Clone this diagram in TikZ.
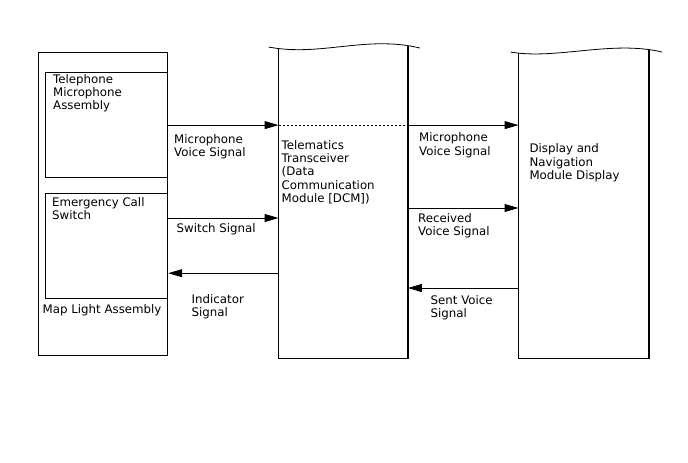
\documentclass[tikz,border=0pt]{standalone}
\usepackage{fontspec}
\setmainfont{DejaVu Sans}
\usetikzlibrary{arrows.meta, positioning, calc}
\tikzstyle{unit} = [rectangle, draw=black, line width=1.2pt, anchor=north west,
    inner sep=0pt]
\tikzstyle{frame} = [rectangle, anchor=north west, inner sep=0pt]
\tikzstyle{edge} = [draw=black, line width=1.2pt]
\tikzstyle{wave} = [draw=black, line width=0.8pt]
\tikzstyle{txt} = [anchor=north west, align=left, inner sep=0pt,
    font=\fontsize{11.8}{13.4}\selectfont]
\tikzstyle{arrow} = [line width=1pt, -{Triangle[length=14pt,width=8pt]}]
\tikzstyle{dotline} = [line width=1pt, dash pattern=on 2pt off 2pt]

\begin{document}
\begin{tikzpicture}[x=1pt, y=-1pt]
  \useasboundingbox (0,0) rectangle (688,463);
  % Map light assembly
  \node[unit, minimum width=129pt, minimum height=303pt](maplight) at (38,52){};
  \node[unit, minimum width=122pt, minimum height=105pt](mic) at (45,72){};
  \node[unit, minimum width=122pt, minimum height=105pt](sw) at (45,193){};
  \node[txt] at ($(mic.north west)+(8,2)$){Telephone\\Microphone\\Assembly};
  \node[txt] at ($(sw.north west)+(7,4)$){Emergency Call\\Switch};
  \node[txt] at ($(maplight.north west)+(4.5,252)$){Map Light Assembly};

  % Telematics transceiver
  \node[frame, minimum width=129pt, minimum height=311pt](dcm) at (278.5,47){};
  \draw[edge]($(dcm.north west)+(0,1.6)$) -- (dcm.south west)
    -- (dcm.south east) -- ($(dcm.north east)+(0,-1.2)$);
  \draw[wave]($(dcm.north west)+(-10,0)$) .. controls +(52,10) and +(-54,-13)
    .. ($(dcm.north east)+(12,1)$);
  \node[txt] at ($(dcm.north west)+(3,93)$){Telematics\\Transceiver\\(Data\\
    Communication\\Module [DCM])};

  % Display and navigation module
  \node[frame, minimum width=130pt, minimum height=308pt](dnm) at (518.5,50){};
  \draw[edge]($(dnm.north west)+(0,3)$) -- (dnm.south west)
    -- (dnm.south east) -- (dnm.north east);
  \draw[wave]($(dnm.north west)+(-8,2)$) .. controls +(45,8) and +(-50,-12)
    .. ($(dnm.north east)+(13,2)$);
  \node[txt] at ($(dnm.north west)+(10.8,93.6)$){Display and\\Navigation\\
    Module Display};

  % Signal levels
  \coordinate (swsig) at ($(sw.north east)+(0,25)$);
  \coordinate (indsig) at ($(sw.south east)+(0,-26)$);
  \coordinate (rcvsig) at ($(dnm.north west)+(0,158)$);
  \coordinate (sentsig) at ($(dnm.north west)+(0,238)$);

  % Arrows
  \draw[arrow](mic.east) -- (mic.east -| dcm.west);
  \draw[dotline](mic.east -| dcm.west) -- (mic.east -| dcm.east);
  \draw[arrow](mic.east -| dcm.east) -- (mic.east -| dnm.west);
  \draw[arrow](swsig) -- (swsig -| dcm.west);
  \draw[arrow](indsig -| dcm.west) -- (indsig);
  \draw[arrow](rcvsig -| dcm.east) -- (rcvsig);
  \draw[arrow](sentsig) -- (sentsig -| dcm.east);

  % Signal labels
  \node[txt] at (174,134){Microphone\\Voice Signal};
  \node[txt] at (176.5,223){Switch Signal};
  \node[txt] at (191.5,294){Indicator\\Signal};
  \node[txt] at (419,132.6){Microphone\\Voice Signal};
  \node[txt] at (418,213){Received\\Voice Signal};
  \node[txt] at (430.5,295){Sent Voice\\Signal};
\end{tikzpicture}
\end{document}
